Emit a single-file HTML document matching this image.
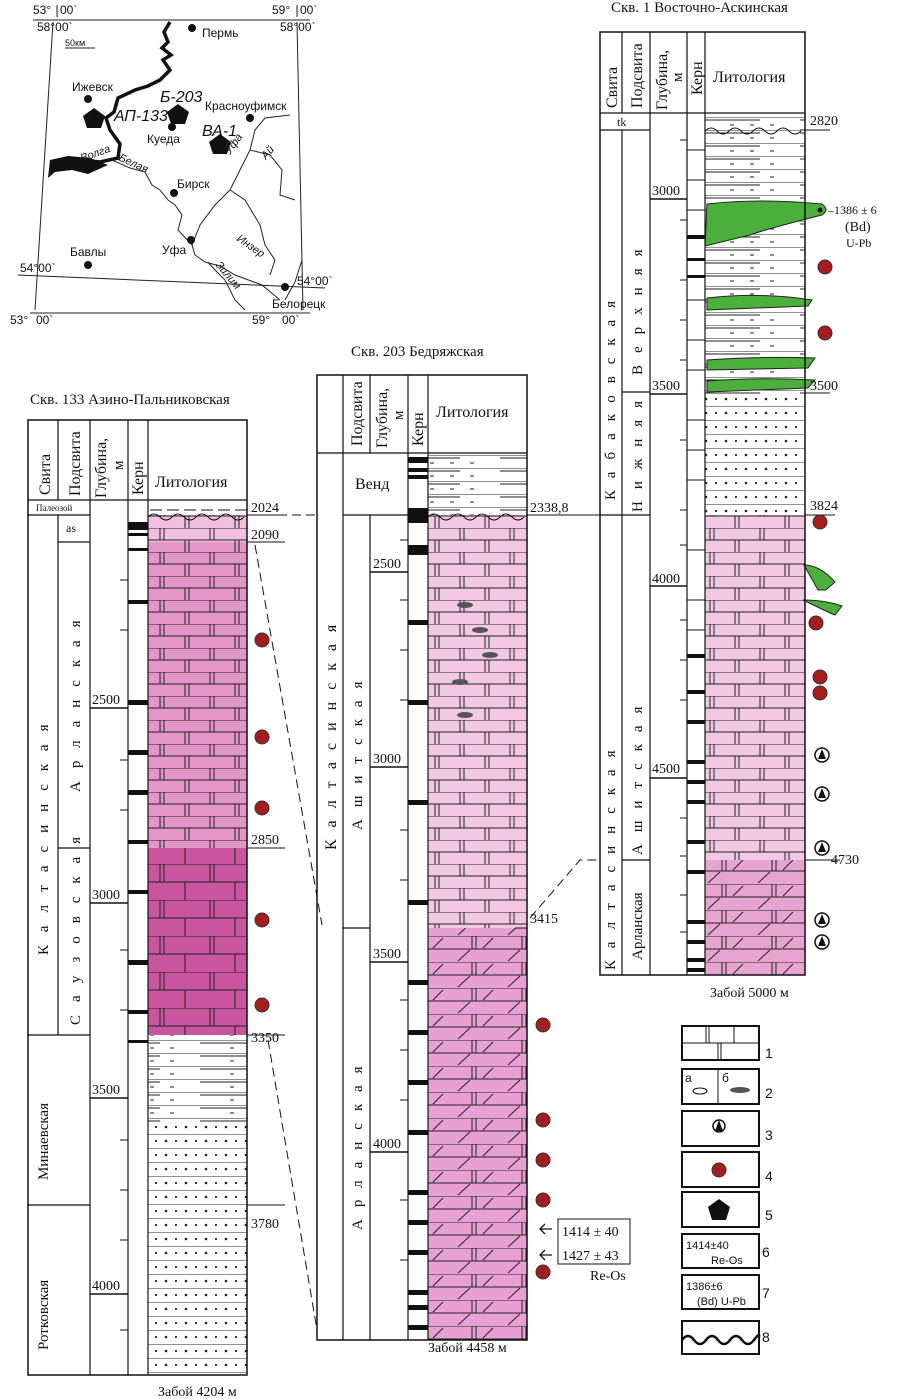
<!DOCTYPE html>
<html><head><meta charset="utf-8"><style>
html,body{margin:0;padding:0;background:#fff;}
svg{display:block;}
.s{font-family:"Liberation Serif",serif;fill:#111;}
.a{font-family:"Liberation Sans",sans-serif;fill:#111;}
</style></head><body>
<svg width="898" height="1399" viewBox="0 0 898 1399" xmlns="http://www.w3.org/2000/svg">
<defs>
<pattern id="br" width="50" height="24" patternUnits="userSpaceOnUse">
<path d="M0 0H50M0 12H50M10 0V12M14 0V12M35 12V24M39 12V24" stroke="#222" stroke-width="1" fill="none"/>
</pattern>
<pattern id="br2" width="50" height="36" patternUnits="userSpaceOnUse">
<path d="M0 0H50M0 18H50M10 0V18M14 0V18M35 18V36" stroke="#222" stroke-width="1" fill="none"/>
</pattern>
<pattern id="hl" width="100" height="13" patternUnits="userSpaceOnUse">
<path d="M0 0H100M0 3H60M30 8H34M50 8H54M70 8H74" stroke="#222" stroke-width="1" fill="none"/>
</pattern>
<pattern id="dt" width="20" height="14" patternUnits="userSpaceOnUse">
<path d="M0 0H20" stroke="#222" stroke-width="1"/><circle cx="6" cy="7" r="1.3" fill="#222"/><circle cx="16" cy="7" r="1.1" fill="#222"/>
</pattern>
<pattern id="sl" width="50" height="26" patternUnits="userSpaceOnUse">
<path d="M0 0H50M0 13H50M8 25L20 14M33 12L43 2M22 0V13M26 0V13" stroke="#222" stroke-width="1" fill="none"/>
</pattern>
</defs>

<!-- ============ MAP ============ -->
<g class="a" font-size="12">
<path d="M33 20L310 20M53 22L35 310M297 22L303 310M18 275L325 288M30 313L310 313" stroke="#222" stroke-width="1" fill="none"/>
<text x="33" y="14">53°</text><text x="60" y="14">00`</text><line x1="57" y1="5" x2="57" y2="17" stroke="#222"/>
<text x="37" y="31">58°00`</text>
<text x="272" y="14">59°</text><text x="300" y="14">00`</text><line x1="297" y1="5" x2="297" y2="17" stroke="#222"/>
<text x="280" y="31">58°00`</text>
<text x="20" y="272">54°00`</text>
<text x="297" y="285">54°00`</text>
<text x="10" y="324">53°</text><text x="36" y="324">00`</text>
<text x="252" y="324">59°</text><text x="282" y="324">00`</text>
<text x="65" y="46" font-size="9">50км</text><line x1="65" y1="48" x2="95" y2="48" stroke="#222"/>
<path d="M170 22L164 32L168 42L162 48L171 55L163 60L170 70L160 80L148 86L135 90L118 98L114 112L106 118L110 130L120 144L118 158L100 162L80 160L60 162L50 170" stroke="#111" stroke-width="3.5" fill="none"/>
<path d="M50 160L68 156L90 158L108 165L88 174L72 170L55 172L48 178Z" fill="#111"/>
<path d="M112 160L130 168L145 172L152 185L160 190L168 200L175 205L182 215L178 230L192 245L195 255L205 262L220 266L235 275L262 285L280 300" stroke="#222" stroke-width="1" fill="none"/>
<path d="M192 245L200 225L215 205L230 190L240 170L250 150L255 130L265 118L290 115" stroke="#222" stroke-width="1" fill="none"/>
<path d="M250 150L270 155L282 170L280 195L295 200" stroke="#222" stroke-width="1" fill="none"/>
<path d="M230 190L245 200L260 225L265 245L275 260L270 275" stroke="#222" stroke-width="1" fill="none"/>
<path d="M208 262L215 270L225 280L235 300L245 310" stroke="#222" stroke-width="1" fill="none"/>
<path d="M285 300L295 282L302 260" stroke="#222" stroke-width="1" fill="none"/>
<circle cx="192" cy="28" r="4" fill="#111"/><text x="202" y="37">Пермь</text>
<circle cx="88" cy="99" r="4" fill="#111"/><text x="72" y="91">Ижевск</text>
<circle cx="172" cy="127" r="4" fill="#111"/><text x="147" y="143">Куеда</text>
<circle cx="250" cy="118" r="4" fill="#111"/><text x="205" y="110">Красноуфимск</text>
<circle cx="174" cy="193" r="4" fill="#111"/><text x="177" y="188">Бирск</text>
<circle cx="191" cy="240" r="4" fill="#111"/><text x="162" y="254">Уфа</text>
<circle cx="88" cy="265" r="4" fill="#111"/><text x="70" y="256">Бавлы</text>
<circle cx="285" cy="287" r="4" fill="#111"/><text x="272" y="308">Белорецк</text>
<path d="M94 108L105 116L101 128L87 128L83 116Z" fill="#111"/>
<path d="M178 104L189 112L185 124L171 124L167 112Z" fill="#111"/>
<path d="M220 134L231 142L227 154L213 154L209 142Z" fill="#111"/>
<text x="114" y="121" font-size="16" font-style="italic">АП-133</text>
<text x="160" y="102" font-size="16" font-style="italic">Б-203</text>
<text x="202" y="136" font-size="16" font-style="italic">ВА-1</text>
<text x="82" y="162" font-size="11" font-style="italic" transform="rotate(-20 82 162)">Волга</text>
<text x="118" y="160" font-size="11" font-style="italic" transform="rotate(25 118 160)">Белая</text>
<text x="230" y="155" font-size="11" font-style="italic" transform="rotate(-55 230 155)">Уфа</text>
<text x="266" y="160" font-size="11" font-style="italic" transform="rotate(-50 266 160)">Ай</text>
<text x="236" y="240" font-size="11" font-style="italic" transform="rotate(35 236 240)">Инзер</text>
<text x="215" y="265" font-size="11" font-style="italic" transform="rotate(50 215 265)">Зилим</text>
</g>

<!-- ============ COLUMN 133 ============ -->
<g class="s">
<text x="30" y="404" font-size="15">Скв. 133 Азино-Пальниковская</text>
<rect x="148" y="505" width="99" height="10" fill="#fff"/>
<rect x="148" y="515" width="99" height="27" fill="#f0c0e0"/>
<rect x="148" y="515" width="99" height="27" fill="url(#br)"/>
<rect x="148" y="542" width="99" height="306" fill="#e496c8"/>
<rect x="148" y="542" width="99" height="306" fill="url(#br)"/>
<rect x="148" y="848" width="99" height="187" fill="#c8559e"/>
<rect x="148" y="848" width="99" height="187" fill="url(#br2)"/>
<rect x="148" y="1035" width="99" height="90" fill="url(#hl)"/>
<rect x="148" y="1125" width="99" height="250" fill="url(#dt)"/>
<path d="M150 510H247" stroke="#111" stroke-dasharray="12 5"/>
<path d="M148 517q6-6 12 0t12 0t12 0t12 0t12 0t12 0t12 0t12 0" stroke="#111" fill="none"/>
<rect x="28" y="420" width="219" height="955" fill="none" stroke="#111" stroke-width="1.5"/>
<path d="M28 500H247M58 420V500M90 420V1375M128 420V1375M148 420V1375M28 515H90M58 515V1035M58 542H90M58 848H90M28 1035H90M28 1205H90" stroke="#111" stroke-width="1.2" fill="none"/>
<text font-size="16" transform="translate(50 495) rotate(-90)">Свита</text>
<text font-size="16" transform="translate(80 496) rotate(-90)">Подсвита</text>
<text font-size="16" transform="translate(106 498) rotate(-90)">Глубина,</text>
<text font-size="15" transform="translate(123 470) rotate(-90)">м</text>
<text font-size="16" transform="translate(143 495) rotate(-90)">Керн</text>
<text x="155" y="487" font-size="16">Литология</text>
<text x="36" y="511" font-size="9">Палеозой</text>
<text x="66" y="532" font-size="12">as</text>
<text font-size="15" letter-spacing="13" transform="translate(48 955) rotate(-90)">Калтасинская</text>
<text font-size="15" letter-spacing="13" transform="translate(80 792) rotate(-90)">Арланская</text>
<text font-size="15" letter-spacing="13" transform="translate(80 1025) rotate(-90)">Саузовская</text>
<text font-size="15" transform="translate(48 1180) rotate(-90)">Минаевская</text>
<text font-size="15" transform="translate(48 1350) rotate(-90)">Ротковская</text>
<g font-size="14"><text x="92" y="704">2500</text><text x="92" y="899">3000</text><text x="92" y="1094">3500</text><text x="92" y="1290">4000</text></g>
<path d="M90 708H128M90 903H128M90 1098H128M90 1294H128" stroke="#111" stroke-width="1.5"/>
<g fill="#111"><rect x="128" y="522" width="20" height="8"/><rect x="128" y="533" width="20" height="3"/><rect x="128" y="548" width="20" height="3"/><rect x="128" y="600" width="20" height="4"/><rect x="128" y="700" width="20" height="5"/><rect x="128" y="750" width="20" height="5"/><rect x="128" y="790" width="20" height="5"/><rect x="128" y="840" width="20" height="4"/><rect x="128" y="890" width="20" height="4"/><rect x="128" y="960" width="20" height="5"/><rect x="128" y="1010" width="20" height="4"/><rect x="128" y="1040" width="20" height="3"/></g>
<path d="M120 580H128M120 630H128M120 760H128M120 810H128M120 950H128M120 1010H128M120 1140H128M120 1190H128M120 1240H128M120 1330H128" stroke="#111"/>
<g font-size="14"><text x="251" y="512">2024</text><text x="251" y="539">2090</text><text x="251" y="844">2850</text><text x="251" y="1042">3350</text><text x="251" y="1228">3780</text></g>
<path d="M247 515H285M247 542H285M247 848H285M247 1035H285M247 1205H285" stroke="#111"/>
<g fill="#a51d1d" stroke="#333"><circle cx="262" cy="640" r="7"/><circle cx="262" cy="737" r="7"/><circle cx="262" cy="808" r="7"/><circle cx="262" cy="920" r="7"/><circle cx="262" cy="1005" r="7"/></g>
<text x="158" y="1396" font-size="14">Забой 4204 м</text>
</g>

<path d="M250 515H317M255 545L322 925M268 1040L317 1330M530 918L580 860H600" stroke="#111" stroke-dasharray="9 5" fill="none"/>
<path d="M527 515H600" stroke="#111"/>

<!-- ============ COLUMN 203 ============ -->
<g class="s">
<text x="351" y="356" font-size="15">Скв. 203 Бедряжская</text>
<rect x="428" y="453" width="99" height="62" fill="url(#hl)"/>
<rect x="428" y="515" width="99" height="413" fill="#f2c8e4"/>
<rect x="428" y="515" width="99" height="413" fill="url(#br)"/>
<rect x="428" y="928" width="99" height="412" fill="#e8a0d4"/>
<rect x="428" y="928" width="99" height="412" fill="url(#sl)"/>
<g fill="#555"><ellipse cx="465" cy="715" rx="8" ry="3"/><ellipse cx="460" cy="682" rx="8" ry="3"/><ellipse cx="490" cy="655" rx="8" ry="3"/><ellipse cx="480" cy="630" rx="8" ry="3"/><ellipse cx="465" cy="605" rx="8" ry="3"/></g>
<path d="M428 517q6-6 12 0t12 0t12 0t12 0t12 0t12 0t12 0t12 0" stroke="#111" fill="none"/>
<rect x="317" y="375" width="210" height="965" fill="none" stroke="#111" stroke-width="1.5"/>
<path d="M317 453H527M343 375V1340M370 375V453M370 515V1340M408 375V1340M428 375V1340M343 515H408M343 928H370" stroke="#111" stroke-width="1.2" fill="none"/>
<text font-size="16" transform="translate(362 446) rotate(-90)">Подсвита</text>
<text font-size="16" transform="translate(387 448) rotate(-90)">Глубина,</text>
<text font-size="15" transform="translate(403 420) rotate(-90)">м</text>
<text font-size="16" transform="translate(423 446) rotate(-90)">Керн</text>
<text x="436" y="417" font-size="16">Литология</text>
<text x="355" y="489" font-size="16">Венд</text>
<text font-size="16" letter-spacing="12" transform="translate(336 850) rotate(-90)">Калтасинская</text>
<text font-size="15" letter-spacing="12" transform="translate(362 830) rotate(-90)">Ашитская</text>
<text font-size="15" letter-spacing="12" transform="translate(362 1230) rotate(-90)">Арланская</text>
<g font-size="14"><text x="373" y="568">2500</text><text x="373" y="763">3000</text><text x="373" y="958">3500</text><text x="373" y="1148">4000</text></g>
<path d="M370 572H408M370 767H408M370 962H408M370 1152H408" stroke="#111" stroke-width="1.5"/>
<g fill="#111"><rect x="408" y="457" width="20" height="6"/><rect x="408" y="468" width="20" height="4"/><rect x="408" y="475" width="20" height="4"/><rect x="408" y="508" width="20" height="15"/><rect x="408" y="545" width="20" height="10"/><rect x="408" y="620" width="20" height="5"/><rect x="408" y="700" width="20" height="5"/><rect x="408" y="800" width="20" height="5"/><rect x="408" y="900" width="20" height="5"/><rect x="408" y="980" width="20" height="5"/><rect x="408" y="1030" width="20" height="5"/><rect x="408" y="1080" width="20" height="5"/><rect x="408" y="1130" width="20" height="5"/><rect x="408" y="1190" width="20" height="5"/><rect x="408" y="1220" width="20" height="5"/><rect x="408" y="1250" width="20" height="5"/><rect x="408" y="1290" width="20" height="5"/><rect x="408" y="1305" width="20" height="5"/><rect x="408" y="1325" width="20" height="5"/></g>
<path d="M400 540H408M400 600H408M400 650H408M400 700H408M400 830H408M400 880H408M400 1000H408M400 1050H408M400 1100H408M400 1200H408M400 1260H408" stroke="#111"/>
<text x="530" y="512" font-size="14">2338,8</text>
<text x="530" y="923" font-size="14">3415</text>
<path d="M515 928H527" stroke="#111"/>
<g fill="#a51d1d" stroke="#333"><circle cx="543" cy="1025" r="7"/><circle cx="543" cy="1120" r="7"/><circle cx="543" cy="1160" r="7"/><circle cx="543" cy="1200" r="7"/><circle cx="543" cy="1272" r="7"/></g>
<path d="M540 1229H552M545 1224L540 1229L545 1234M540 1255H552M545 1250L540 1255L545 1260" stroke="#111" fill="none" stroke-width="1.3"/>
<rect x="558" y="1219" width="72" height="45" fill="none" stroke="#111"/>
<text x="562" y="1236" font-size="14">1414 ± 40</text>
<text x="562" y="1260" font-size="14">1427 ± 43</text>
<text x="590" y="1280" font-size="14">Re-Os</text>
<text x="428" y="1352" font-size="14">Забой 4458 м</text>
</g>

<!-- ============ COLUMN 1 ============ -->
<g class="s">
<text x="611" y="12" font-size="15">Скв. 1 Восточно-Аскинская</text>
<rect x="705" y="115" width="100" height="400" fill="url(#hl)"/>
<rect x="705" y="395" width="100" height="120" fill="#fff"/>
<rect x="705" y="395" width="100" height="120" fill="url(#dt)"/>
<rect x="705" y="515" width="100" height="345" fill="#f2c8e2"/>
<rect x="705" y="515" width="100" height="345" fill="url(#br)"/>
<rect x="705" y="860" width="100" height="115" fill="#e8a4d0"/>
<rect x="705" y="860" width="100" height="115" fill="url(#sl)"/>
<path d="M705 131q6-6 12 0t12 0t12 0t12 0t12 0t12 0t12 0t12 0" stroke="#111" fill="none"/>
<path d="M707 204Q760 198 822 204Q830 210 822 215Q770 228 750 235L705 246Z" fill="#4bb03b" stroke="#222"/>
<circle cx="820" cy="210" r="2.5" fill="#111"/>
<path d="M707 298Q760 292 812 300L808 306L707 310Z" fill="#4bb03b" stroke="#222"/>
<path d="M707 360Q760 356 815 358L808 368L707 370Z" fill="#4bb03b" stroke="#222"/>
<path d="M707 381Q760 377 815 380L808 388L707 392Z" fill="#4bb03b" stroke="#222"/>
<path d="M804 565Q820 565 835 582L826 590L818 590Z" fill="#4bb03b" stroke="#222"/>
<path d="M803 600Q825 600 842 606L835 615L830 613Z" fill="#4bb03b" stroke="#222"/>
<rect x="600" y="32" width="205" height="943" fill="none" stroke="#111" stroke-width="1.5"/>
<path d="M600 113H805M622 32V113M622 130V975M650 32V975M687 32V975M705 32V975M600 130H650M622 392H650M600 515H650M622 860H650" stroke="#111" stroke-width="1.2" fill="none"/>
<text font-size="16" transform="translate(617 108) rotate(-90)">Свита</text>
<text font-size="16" transform="translate(642 108) rotate(-90)">Подсвита</text>
<text font-size="16" transform="translate(667 110) rotate(-90)">Глубина,</text>
<text font-size="15" transform="translate(682 82) rotate(-90)">м</text>
<text font-size="16" transform="translate(702 95) rotate(-90)">Керн</text>
<text x="713" y="82" font-size="16">Литология</text>
<text x="617" y="126" font-size="12">tk</text>
<text font-size="15" letter-spacing="12" transform="translate(615 500) rotate(-90)">Кабаковская</text>
<text font-size="15" letter-spacing="12" transform="translate(642 375) rotate(-90)">Верхняя</text>
<text font-size="15" letter-spacing="12" transform="translate(642 512) rotate(-90)">Нижняя</text>
<text font-size="15" letter-spacing="12" transform="translate(615 970) rotate(-90)">Калтасинская</text>
<text font-size="15" letter-spacing="12" transform="translate(642 855) rotate(-90)">Ашитская</text>
<text font-size="15" transform="translate(642 960) rotate(-90)">Арланская</text>
<g font-size="14"><text x="652" y="195">3000</text><text x="652" y="390">3500</text><text x="652" y="583">4000</text><text x="652" y="773">4500</text></g>
<path d="M650 199H687M650 394H687M650 586H687M650 778H687" stroke="#111" stroke-width="1.5"/>
<g fill="#111"><rect x="687" y="235" width="18" height="4"/><rect x="687" y="258" width="18" height="3"/><rect x="687" y="275" width="18" height="3"/><rect x="687" y="654" width="18" height="4"/><rect x="687" y="690" width="18" height="4"/><rect x="687" y="720" width="18" height="4"/><rect x="687" y="760" width="18" height="4"/><rect x="687" y="780" width="18" height="4"/><rect x="687" y="800" width="18" height="4"/><rect x="687" y="840" width="18" height="4"/><rect x="687" y="870" width="18" height="4"/><rect x="687" y="920" width="18" height="4"/><rect x="687" y="940" width="18" height="4"/><rect x="687" y="958" width="18" height="4"/><rect x="687" y="968" width="18" height="4"/></g>
<path d="M687 150H705M687 180H705M687 210H705M687 300H705M687 340H705M687 370H705M687 420H705M687 450H705M687 480H705M687 550H705M687 600H705M687 630H705M680 140H687M680 220H687M680 280H687M680 320H687M680 360H687M680 440H687M680 510H687M680 545H687M680 620H687M680 660H687M680 700H687M680 818H687M680 856H687M680 895H687M680 932H687" stroke="#111"/>
<g font-size="14"><text x="810" y="125">2820</text><text x="810" y="390">3500</text><text x="810" y="510">3824</text><text x="831" y="864">4730</text></g>
<path d="M800 130H830M805 393H830M805 515H835M805 860H840" stroke="#111"/>
<text x="828" y="214" font-size="12">–1386 ± 6</text>
<text x="845" y="231" font-size="14">(Bd)</text>
<text x="846" y="247" font-size="12">U-Pb</text>
<g fill="#a51d1d" stroke="#333"><circle cx="825" cy="267" r="7"/><circle cx="825" cy="333" r="7"/><circle cx="820" cy="522" r="7"/><circle cx="816" cy="623" r="7"/><circle cx="820" cy="677" r="7"/><circle cx="820" cy="693" r="7"/></g>
<g fill="#fff" stroke="#111" stroke-width="1.5">
<circle cx="822" cy="755" r="7"/><circle cx="822" cy="794" r="7"/><circle cx="822" cy="848" r="7"/><circle cx="822" cy="920" r="7"/><circle cx="822" cy="942" r="7"/></g>
<g fill="#111"><path d="M822 749L826 759H818Z"/><path d="M822 788L826 798H818Z"/><path d="M822 842L826 852H818Z"/><path d="M822 914L826 924H818Z"/><path d="M822 936L826 946H818Z"/></g>
<text x="710" y="997" font-size="14">Забой 5000 м</text>
</g>

<!-- ============ LEGEND ============ -->
<g class="a" font-size="14">
<rect x="682" y="1026" width="77" height="34" fill="#fff" stroke="#111" stroke-width="2"/>
<path d="M682 1043H759M706 1026V1043M709 1026V1043M734 1026V1043M718 1043V1060M721 1043V1060" stroke="#111"/>
<text x="765" y="1058">1</text>
<rect x="682" y="1069" width="77" height="35" fill="#fff" stroke="#111" stroke-width="2"/>
<path d="M718 1069V1104" stroke="#111"/>
<text x="685" y="1082" font-size="12">а</text><text x="722" y="1082" font-size="12">б</text>
<ellipse cx="700" cy="1091" rx="7" ry="3" fill="none" stroke="#111"/>
<ellipse cx="740" cy="1090" rx="10" ry="3" fill="#555"/>
<text x="765" y="1098">2</text>
<rect x="682" y="1111" width="77" height="35" fill="#fff" stroke="#111" stroke-width="2"/>
<circle cx="719" cy="1126" r="6" fill="#fff" stroke="#111" stroke-width="1.5"/><path d="M719 1120L723 1131H715Z" fill="#111"/>
<text x="765" y="1140">3</text>
<rect x="682" y="1152" width="77" height="35" fill="#fff" stroke="#111" stroke-width="2"/>
<circle cx="719" cy="1170" r="7" fill="#a51d1d" stroke="#333"/>
<text x="765" y="1181">4</text>
<rect x="682" y="1192" width="77" height="35" fill="#fff" stroke="#111" stroke-width="2"/>
<path d="M719 1199L730 1207L726 1220H712L708 1207Z" fill="#111"/>
<text x="765" y="1220">5</text>
<rect x="682" y="1234" width="77" height="34" fill="#fff" stroke="#111" stroke-width="2"/>
<text x="686" y="1249" font-size="11">1414±40</text><text x="711" y="1264" font-size="11">Re-Os</text>
<text x="762" y="1257">6</text>
<rect x="682" y="1275" width="77" height="34" fill="#fff" stroke="#111" stroke-width="2"/>
<text x="686" y="1290" font-size="11">1386±6</text><text x="697" y="1305" font-size="11">(Bd) U-Pb</text>
<text x="762" y="1298">7</text>
<rect x="682" y="1321" width="77" height="33" fill="#fff" stroke="#111" stroke-width="2"/>
<path d="M682 1340q6-8 12 0t12 0t12 0t12 0t12 0t12 0t5 -3" stroke="#111" stroke-width="2.5" fill="none"/>
<text x="762" y="1342">8</text>
</g>
</svg>
</body></html>
